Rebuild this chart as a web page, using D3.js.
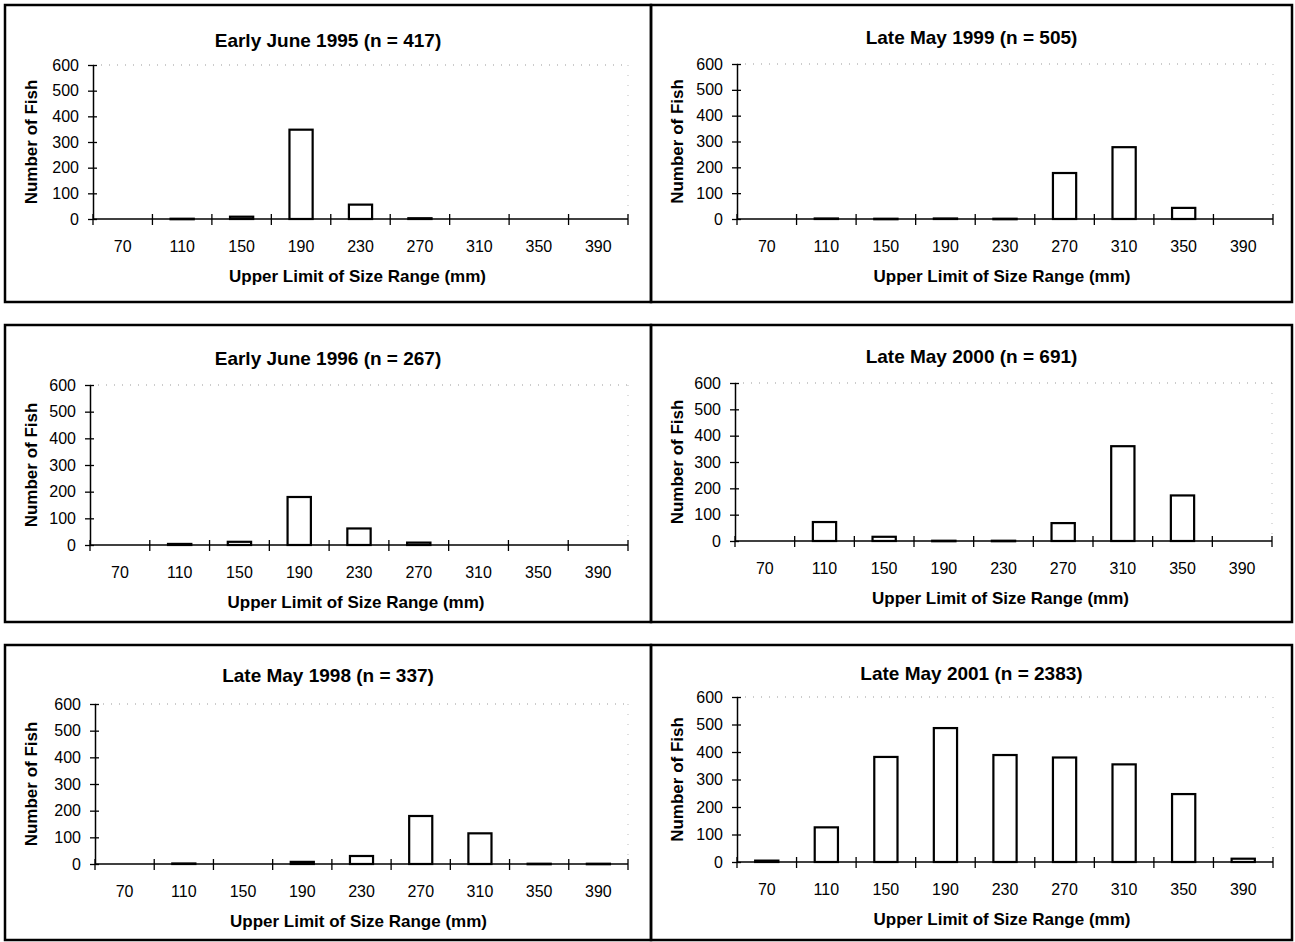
<!DOCTYPE html>
<head>
<meta charset="utf-8">
<style>
  body { margin: 0; background: #fff; }
  svg { font-family: "Liberation Sans", Arial, sans-serif; }
  .title { font-size: 19px; font-weight: bold; }
  .axtitle { font-size: 17px; font-weight: bold; }
  .tick text { fill: #000; }
</style>
</head>
<body>
<div id="chart"></div>
<script src="https://d3js.org/d3.v7.min.js"></script>
<script>
// size classes (upper limit, mm)
var categories = ["70", "110", "150", "190", "230", "270", "310", "350", "390"];
var yTicks = [0, 100, 200, 300, 400, 500, 600];

var titles = [
  "Early June 1995 (n = 417)",
  "Late May 1999 (n = 505)",
  "Early June 1996 (n = 267)",
  "Late May 2000 (n = 691)",
  "Late May 1998 (n = 337)",
  "Late May 2001 (n = 2383)"
];

var june1995 = [0, 1, 9, 348, 56, 3, 0, 0, 0];
var may1999  = [0, 2, 1, 2, 1, 178, 278, 43, 0];
var june1996 = [0, 4, 12, 180, 62, 9, 0, 0, 0];
var may2000  = [0, 72, 16, 1, 1, 68, 360, 173, 0];
var may1998  = [0, 2, 0, 8, 30, 180, 115, 1, 1];
var may2001  = [5, 126, 382, 487, 389, 380, 355, 247, 12];

var series = [june1995, may1999, june1996, may2000, may1998, may2001];

// panel boxes and plot areas
var panels = [
  {bx: 5,   by: 5,   bw: 646, bh: 297, x0: 93,  x1: 628,  top: 65,  bot: 219, ty: 47},
  {bx: 651, by: 5,   bw: 641, bh: 297, x0: 737, x1: 1273, top: 64,  bot: 219, ty: 44},
  {bx: 5,   by: 325, bw: 646, bh: 297, x0: 90,  x1: 628,  top: 385, bot: 545, ty: 365},
  {bx: 651, by: 325, bw: 641, bh: 297, x0: 735, x1: 1272, top: 383, bot: 541, ty: 363},
  {bx: 5,   by: 645, bw: 646, bh: 295, x0: 95,  x1: 628,  top: 704, bot: 864, ty: 682},
  {bx: 651, by: 645, bw: 641, bh: 295, x0: 737, x1: 1273, top: 697, bot: 862, ty: 680}
];

var svg = d3.select("#chart").append("svg")
    .attr("width", 1295)
    .attr("height", 942);

panels.forEach(function(p, i) {
  var data = series[i];

  svg.append("rect")
      .attr("x", p.bx).attr("y", p.by)
      .attr("width", p.bw).attr("height", p.bh)
      .attr("fill", "none")
      .attr("stroke", "#000")
      .attr("stroke-width", 2.5);

  var x = d3.scaleBand()
      .domain(categories)
      .range([p.x0, p.x1])
      .paddingInner(0.61)
      .paddingOuter(0.305);
  var y = d3.scaleLinear()
      .domain([0, 600])
      .range([p.bot, p.top]);
  var step = x.step();

  // faint dotted line at top of plot area and at the right edge
  svg.append("line")
      .attr("x1", p.x0).attr("x2", p.x1)
      .attr("y1", y(600)).attr("y2", y(600))
      .attr("stroke", "#999").attr("stroke-width", 1)
      .attr("stroke-dasharray", "1,7");
  svg.append("line")
      .attr("x1", p.x1).attr("x2", p.x1)
      .attr("y1", y(600)).attr("y2", y(0))
      .attr("stroke", "#bbb").attr("stroke-width", 1)
      .attr("stroke-dasharray", "1,9");

  // bars
  svg.append("g").selectAll("rect")
      .data(data.map(function(v, k) { return {key: categories[k], value: v}; })
                .filter(function(d) { return d.value > 0; }))
    .enter().append("rect")
      .attr("x", function(d) { return x(d.key); })
      .attr("width", x.bandwidth())
      .attr("y", function(d) { return y(d.value); })
      .attr("height", function(d) { return Math.max(y(0) - y(d.value), 0.5); })
      .attr("fill", "#fff")
      .attr("stroke", "#000")
      .attr("stroke-width", 2.2);

  // y axis
  var ya = svg.append("g")
      .attr("transform", "translate(" + p.x0 + ",0)")
      .call(d3.axisLeft(y).tickValues(yTicks).tickSizeOuter(0).tickSizeInner(5).tickPadding(9));
  ya.select(".domain").attr("stroke", "#000").attr("stroke-width", 1.5);
  ya.selectAll(".tick line").attr("x1", 4).attr("stroke-width", 1.3);
  ya.selectAll(".tick text").style("font-size", "16px");

  // x axis: labels centred on bars, ticks at bin boundaries
  var xa = svg.append("g")
      .attr("transform", "translate(0," + p.bot + ")")
      .call(d3.axisBottom(x).tickSize(0).tickPadding(22));
  xa.select(".domain").remove();
  xa.selectAll(".tick text").style("font-size", "16px");
  svg.append("line")
      .attr("x1", p.x0).attr("x2", p.x1)
      .attr("y1", p.bot).attr("y2", p.bot)
      .attr("stroke", "#000").attr("stroke-width", 1.5);
  var bounds = categories.map(function(c) { return x(c) + x.bandwidth() / 2 - step / 2; });
  bounds.push(bounds[bounds.length - 1] + step);
  svg.append("g").selectAll("line")
      .data(bounds)
    .enter().append("line")
      .attr("x1", function(d) { return d; })
      .attr("x2", function(d) { return d; })
      .attr("y1", p.bot - 5)
      .attr("y2", p.bot + 6)
      .attr("stroke", "#000")
      .attr("stroke-width", 1.3);

  // titles
  svg.append("text")
      .attr("class", "title")
      .attr("text-anchor", "middle")
      .attr("x", p.bx + p.bw / 2)
      .attr("y", p.ty)
      .text(titles[i]);
  svg.append("text")
      .attr("class", "axtitle")
      .attr("text-anchor", "middle")
      .attr("x", (p.x0 + p.x1) / 2 - 3)
      .attr("y", p.bot + 63)
      .text("Upper Limit of Size Range (mm)");
  svg.append("text")
      .attr("class", "axtitle")
      .attr("text-anchor", "middle")
      .attr("transform", "translate(" + (p.bx + 32) + "," + ((p.top + p.bot) / 2) + ")rotate(-90)")
      .text("Number of Fish");
});
</script>
</body>
</html>
